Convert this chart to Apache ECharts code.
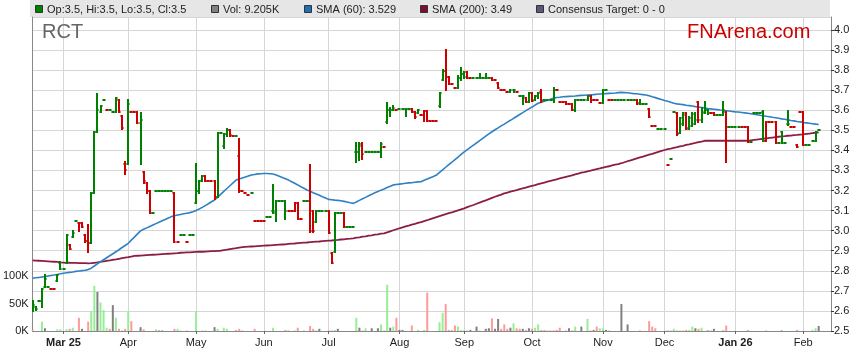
<!DOCTYPE html>
<html><head><meta charset="utf-8">
<script src="https://cdn.jsdelivr.net/npm/echarts@6/dist/echarts.min.js"></script>
<style>html,body{margin:0;padding:0;background:#fff}#c{width:859px;height:363px}</style>
</head><body><div id="c"></div>
<script>
// ---------- DATA ----------
const startDate = '2025-02-17';        // first trading weekday on the axis
const categoryCount = 260;              // weekdays shown on the axis
const tickIndex  = [10, 31, 53, 75, 96, 119, 140, 162, 185, 205, 228, 250];
const tickLabels = ['Mar 25','Apr','May','Jun','Jul','Aug','Sep','Oct','Nov','Dec','Jan 26','Feb'];
const boldTicks  = ['Mar 25','Jan 26'];

// [open, high, low, close] or a single number for a flat day
const ohlc = [
 [2.62,2.65,2.60,2.63],[2.62,2.62,2.605,2.61],2.65,[2.65,2.71,2.62,2.71],[2.72,2.78,2.72,2.76],2.72,2.71,2.71,[2.75,2.78,2.75,2.78],[2.84,2.845,2.81,2.81],
 2.81,[2.84,2.98,2.84,2.98],[2.93,2.93,2.91,2.91],[2.97,3.0,2.97,2.99],3.05,[3.04,3.04,3.0,3.04],[3.04,3.04,3.02,3.02],[2.98,2.98,2.945,2.95],[2.95,3.03,2.895,2.94],[2.94,3.19,2.94,3.19],
 [3.19,3.49,3.19,3.49],[3.49,3.68,3.49,3.60],[3.59,3.62,3.59,3.62],3.65,3.60,3.60,3.59,[3.59,3.66,3.59,3.66],[3.65,3.65,3.59,3.59],[3.57,3.57,3.505,3.51],
 [3.33,3.34,3.28,3.30],[3.33,3.65,3.33,3.63],3.59,3.59,[3.59,3.59,3.535,3.535],[3.535,3.585,3.33,3.55],[3.29,3.29,3.24,3.25],[3.24,3.24,3.19,3.20],[3.20,3.20,3.09,3.09],3.09,
 3.2,3.2,3.2,3.2,3.2,3.2,[3.19,3.19,2.945,2.945],2.945,2.98,2.98,
 2.945,2.98,2.98,[3.14,3.33,3.14,3.20],[3.20,3.25,3.19,3.25],[3.25,3.27,3.25,3.27],[3.27,3.27,3.25,3.25],3.25,3.25,[3.25,3.25,3.16,3.17],
 [3.17,3.485,3.17,3.485],3.485,[3.42,3.48,3.41,3.48],[3.48,3.505,3.47,3.50],[3.50,3.50,3.47,3.475],3.473,3.47,[3.37,3.455,3.194,3.20],3.197,3.186,
 3.176,3.186,3.047,3.047,3.047,3.047,3.067,3.067,[3.10,3.23,3.09,3.10],[3.09,3.15,3.05,3.15],
 3.148,3.148,[3.15,3.15,3.06,3.10],3.10,3.10,[3.10,3.136,3.10,3.136],[3.136,3.136,3.057,3.06],3.058,3.15,3.15,
 [3.15,3.327,2.995,3.0],[3.10,3.10,2.995,3.0],[3.045,3.10,3.045,3.10],3.098,3.098,3.098,[3.10,3.10,2.987,2.99],[2.89,2.89,2.84,2.84],[2.895,3.086,2.895,3.086],3.086,
 3.086,[3.086,3.086,3.017,3.017],3.017,3.017,3.017,[3.39,3.435,3.344,3.39],[3.39,3.435,3.35,3.42],[3.43,3.435,3.355,3.38],3.394,3.394,
 3.394,3.394,3.394,[3.39,3.435,3.365,3.43],3.415,[3.54,3.635,3.535,3.60],[3.60,3.61,3.573,3.60],[3.60,3.62,3.60,3.61],3.601,3.605,
 3.605,[3.605,3.605,3.57,3.605],3.605,[3.605,3.605,3.59,3.59],[3.59,3.59,3.563,3.565],[3.585,3.60,3.585,3.60],3.576,[3.576,3.596,3.546,3.596],[3.596,3.596,3.546,3.546],3.546,
 3.546,3.546,[3.62,3.684,3.618,3.684],[3.75,3.80,3.75,3.795],[3.795,3.90,3.70,3.767],[3.767,3.767,3.729,3.73],3.73,3.709,[3.71,3.77,3.71,3.76],[3.76,3.81,3.75,3.78],
 [3.78,3.79,3.76,3.765],[3.79,3.79,3.763,3.763],3.76,3.759,3.759,[3.76,3.78,3.76,3.76],3.76,[3.76,3.78,3.76,3.76],3.76,[3.76,3.76,3.75,3.75],
 3.75,[3.735,3.735,3.709,3.71],3.70,3.70,3.692,[3.69,3.70,3.69,3.70],[3.70,3.70,3.69,3.70],3.692,3.67,[3.67,3.67,3.63,3.67],
 [3.66,3.66,3.64,3.64],[3.64,3.684,3.64,3.684],[3.684,3.684,3.645,3.645],[3.65,3.67,3.65,3.67],[3.67,3.688,3.66,3.688],[3.69,3.70,3.643,3.645],3.651,3.651,3.651,[3.65,3.709,3.643,3.70],
 3.70,3.643,3.643,[3.643,3.643,3.63,3.63],3.63,[3.63,3.63,3.60,3.60],[3.60,3.651,3.596,3.651],3.651,3.651,3.651,
 [3.65,3.67,3.65,3.67],[3.67,3.67,3.64,3.651],3.651,3.651,3.635,[3.635,3.70,3.635,3.70],3.70,3.651,3.651,3.651,
 3.651,3.651,3.651,3.651,3.651,3.651,[3.651,3.651,3.63,3.638],[3.63,3.651,3.63,3.63],3.63,3.63,
 [3.605,3.605,3.568,3.568],3.52,3.52,3.505,3.505,3.505,3.327,3.355,3.59,[3.585,3.585,3.477,3.48],
 [3.485,3.56,3.485,3.56],[3.53,3.585,3.526,3.575],[3.585,3.585,3.505,3.51],[3.505,3.568,3.505,3.56],[3.52,3.585,3.52,3.58],[3.53,3.585,3.53,3.55],[3.643,3.643,3.543,3.55],[3.55,3.61,3.543,3.59],[3.585,3.643,3.585,3.60],[3.60,3.60,3.58,3.585],
 3.585,[3.585,3.585,3.576,3.576],3.576,3.576,[3.576,3.64,3.576,3.60],[3.59,3.59,3.344,3.515],3.515,3.515,3.515,3.515,
 3.515,3.515,[3.515,3.515,3.443,3.443],3.443,3.585,3.585,3.585,[3.59,3.596,3.447,3.447],[3.447,3.543,3.447,3.543],3.543,
 3.543,[3.543,3.543,3.435,3.435],3.435,[3.49,3.493,3.435,3.435],3.435,[3.53,3.596,3.526,3.53],3.515,3.515,[3.427,3.427,3.415,3.415],3.593,
 [3.593,3.593,3.427,3.427],3.427,3.427,3.447,[3.447,3.493,3.447,3.493],3.5
];
// bar colour per day: g = green, r = red
const barDir = ['ggggggrrgg','ggrggrrrrg','ggggrgggrr','rgrrrgrrrg','ggggggrrgg','rgggggrrrr','ggggrrgrrr','rgrrrrgggg','gggrrrrrgg','rrggggrrgg',
 'grgggggrgg','ggggrgggrg','gggrrgrrrr','rrggrrrrgg','grrggggggr','rrrrrggrgg','rgrggrgggg','rrrrrrgggg','grrrrggrrg','ggggggrggg',
 'rrrgggrggr','ggrgggrggg','rrgggrgggg','rrrgggggrr','rrggggrrrr','rggggg'].join('');

// volume in thousands
const volumeK = [
 2,0,0,17,5,0,0,0,3,3, 0,3,4,6,0,24,4,0,17,36, 82,71,52,38,6,4,47,24,4,1, 4,36,18,0,0,7,3,0,0,0,
 3,1,1,0,0,0,4,4,1,0, 1,0,0,36,0,1,1,0,0,7, 4,0,6,4,0,0,1,4,1,0, 0,0,4,0,0,0,0,0,6,0,
 0,0,1,1,0,1,6,0,1,0, 9,4,1,4,0,0,1,1,2,4, 0,0,0,0,0,24,6,1,5,0, 5,0,5,12,1,84,6,8,24,2,
 2,0,0,10,0,2,0,2,70,0, 0,0,16,33,49,2,1,10,8,2, 2,1,2,0,8,1,0,4,5,23, 4,22,4,12,4,6,14,5,4,4,
 1,5,4,6,12,2,1,1,1,1, 2,6,0,1,5,1,8,0,8,0, 22,1,2,8,5,5,2,1,0,0, 0,49,0,12,0,0,0,1,0,0,
 18,8,5,0,0,0,1,1,4,1, 1,1,2,2,8,5,4,6,0,1, 1,4,0,0,2,10,0,0,0,0, 0,0,2,0,0,0,0,0,1,0,
 0,0,0,1,0,0,0,0,2,0, 0,0,0,2,5,9.205
];
// volume colour: g = up, r = down, n = unchanged
const volKind = ['r--gn---gg','-grg-rn-rg','gngggrngrr','rgr--nr---','gnn---rgg-','r--g-gr--n','g-gg--nrr-','--r-----g-','--nr-gr-g-','rrgn--rrgn',
 '-----gnrg-','n-ngrgngrn','n--r-g-gr-','--ggrrnrgg','grn-ng-nnr','nnrrrngrrn','nnrggrnrrr','rr-rnrg-n-','grnrggnr--','-n-n---r--',
 'rrr---rggr','ggrggnrg-n','rn--gr----','--r-----r-','---n----r-','---ggn'].join('');

const sma60 = [
 2.763,2.765,2.767,2.769,2.771,2.774,2.777,2.779,2.782,2.785, 2.788,2.790,2.792,2.794,2.797,2.799,2.801,2.803,2.806,2.813,
 2.824,2.835,2.845,2.855,2.865,2.875,2.885,2.895,2.905,2.916, 2.926,2.937,2.953,2.968,2.984,2.999,3.007,3.014,3.021,3.028,
 3.035,3.042,3.049,3.056,3.063,3.070,3.074,3.078,3.081,3.084, 3.087,3.090,3.094,3.101,3.108,3.116,3.125,3.134,3.144,3.153,
 3.166,3.181,3.196,3.210,3.224,3.238,3.252,3.258,3.263,3.268, 3.273,3.277,3.280,3.283,3.284,3.285,3.285,3.284,3.282,3.277,
 3.271,3.265,3.259,3.252,3.244,3.236,3.228,3.219,3.211,3.203, 3.196,3.189,3.183,3.176,3.169,3.163,3.156,3.154,3.152,3.151,
 3.149,3.146,3.143,3.139,3.136,3.143,3.151,3.159,3.166,3.174, 3.181,3.189,3.195,3.202,3.208,3.215,3.221,3.228,3.230,3.232,
 3.234,3.236,3.238,3.239,3.241,3.243,3.244,3.251,3.257,3.264, 3.270,3.277,3.290,3.303,3.316,3.329,3.341,3.354,3.367,3.380,
 3.393,3.404,3.415,3.426,3.437,3.449,3.460,3.471,3.482,3.493, 3.503,3.512,3.522,3.531,3.541,3.550,3.560,3.569,3.579,3.588,
 3.598,3.607,3.616,3.626,3.635,3.640,3.645,3.650,3.655,3.660, 3.664,3.665,3.667,3.668,3.669,3.670,3.671,3.673,3.674,3.675,
 3.676,3.677,3.678,3.680,3.681,3.682,3.683,3.684,3.685,3.686, 3.688,3.689,3.688,3.687,3.685,3.683,3.682,3.680,3.678,3.676,
 3.672,3.667,3.663,3.658,3.654,3.649,3.645,3.640,3.635,3.632, 3.630,3.628,3.625,3.623,3.621,3.618,3.616,3.614,3.612,3.609,
 3.607,3.605,3.603,3.601,3.600,3.598,3.596,3.594,3.592,3.591, 3.589,3.587,3.585,3.583,3.580,3.578,3.575,3.573,3.570,3.568,
 3.565,3.563,3.560,3.557,3.555,3.552,3.549,3.547,3.544,3.542, 3.539,3.537,3.535,3.533,3.531,3.529
];
const sma200 = [
 2.852,2.851,2.850,2.849,2.848,2.847,2.846,2.845,2.844,2.842, 2.841,2.840,2.840,2.839,2.839,2.838,2.838,2.838,2.837,2.838,
 2.840,2.842,2.845,2.847,2.850,2.852,2.855,2.857,2.860,2.863, 2.866,2.868,2.871,2.874,2.875,2.876,2.877,2.878,2.879,2.880,
 2.881,2.882,2.883,2.884,2.885,2.886,2.887,2.888,2.890,2.891, 2.892,2.892,2.893,2.894,2.895,2.895,2.896,2.897,2.898,2.898,
 2.899,2.900,2.903,2.905,2.908,2.911,2.913,2.916,2.918,2.919, 2.920,2.921,2.922,2.923,2.924,2.925,2.926,2.927,2.928,2.929,
 2.930,2.931,2.932,2.934,2.935,2.936,2.938,2.939,2.940,2.941, 2.943,2.944,2.945,2.946,2.948,2.949,2.950,2.951,2.953,2.954,
 2.956,2.957,2.959,2.960,2.962,2.965,2.967,2.970,2.972,2.975, 2.977,2.980,2.982,2.985,2.987,2.992,2.997,3.002,3.007,3.012,
 3.016,3.021,3.025,3.030,3.034,3.039,3.043,3.048,3.052,3.057, 3.062,3.067,3.072,3.077,3.082,3.087,3.091,3.096,3.101,3.106,
 3.111,3.117,3.123,3.128,3.134,3.140,3.146,3.151,3.157,3.163, 3.169,3.175,3.180,3.186,3.190,3.194,3.198,3.202,3.207,3.211,
 3.215,3.219,3.223,3.227,3.232,3.236,3.240,3.244,3.248,3.252, 3.256,3.260,3.264,3.268,3.272,3.276,3.280,3.284,3.289,3.292,
 3.296,3.299,3.303,3.307,3.310,3.314,3.318,3.321,3.325,3.329, 3.332,3.336,3.341,3.346,3.350,3.355,3.360,3.365,3.369,3.374,
 3.379,3.383,3.388,3.393,3.398,3.402,3.406,3.409,3.413,3.416, 3.420,3.423,3.427,3.430,3.434,3.437,3.441,3.444,3.448,3.448,
 3.448,3.448,3.448,3.448,3.448,3.448,3.448,3.448,3.448,3.448, 3.448,3.448,3.448,3.450,3.452,3.454,3.456,3.458,3.460,3.462,
 3.464,3.466,3.468,3.470,3.471,3.473,3.474,3.476,3.477,3.479, 3.480,3.482,3.484,3.486,3.488,3.490
];
const legendTexts = ['Op:3.5, Hi:3.5, Lo:3.5, Cl:3.5', 'Vol: 9.205K', 'SMA (60): 3.529', 'SMA (200): 3.49', 'Consensus Target: 0 - 0'];
const titleText = 'RCT';
const brandText = 'FNArena.com';

// ---------- BUILD ----------
const n = ohlc.length;
if (barDir.length !== n || volumeK.length !== n || volKind.length !== n || sma60.length !== n || sma200.length !== n) {
  throw new Error('length mismatch ' + [n, barDir.length, volumeK.length, volKind.length, sma60.length, sma200.length].join(','));
}
const dates = [];
{
  const d = new Date(startDate + 'T00:00:00Z');
  while (dates.length < categoryCount) {
    const wd = d.getUTCDay();
    if (wd !== 0 && wd !== 6) dates.push(d.toISOString().slice(0, 10));
    d.setUTCDate(d.getUTCDate() + 1);
  }
}
const tickSet = new Set(tickIndex);
const ohlcData = ohlc.map((r, i) => {
  const a = Array.isArray(r) ? r : [r, r, r, r];
  return [i, a[0], a[1], a[2], a[3], barDir[i] === 'g' ? 1 : 0];
});
const volColors = { g: '#96ee96', r: '#ff9a9a', n: '#808080', '-': '#808080' };
const volData = volumeK.map((v, i) => v > 0 ? { value: v * 1000, itemStyle: { color: volColors[volKind[i]] } } : '-');

const FONT = '"Liberation Sans", Arial, sans-serif';

function renderOHLC(params, api) {
  const i = api.value(0);
  const color = api.value(5) === 1 ? '#008000' : '#cc0000';
  const pO = api.coord([i, api.value(1)]);
  const pH = api.coord([i, api.value(2)]);
  const pL = api.coord([i, api.value(3)]);
  const pC = api.coord([i, api.value(4)]);
  const half = api.size([1, 0])[0] / 2;
  const x = Math.round(pO[0]);
  const yO = Math.round(pO[1]), yC = Math.round(pC[1]), yH = Math.round(pH[1]), yL = Math.round(pL[1]);
  const st = { stroke: color, lineWidth: 2, lineCap: 'butt' };
  const kids = [];
  if (yL - yH > 0) kids.push({ type: 'line', shape: { x1: x, y1: yH - 1, x2: x, y2: yL + 1 }, style: st });
  kids.push({ type: 'line', shape: { x1: x - half, y1: yO, x2: x, y2: yO }, style: st });
  kids.push({ type: 'line', shape: { x1: x, y1: yC, x2: x + half, y2: yC }, style: st });
  return { type: 'group', children: kids };
}

const legendItems = [
  { sx: 35, tx: 47, color: '#008000' },
  { sx: 211, tx: 223, color: '#808080' },
  { sx: 304, tx: 316, color: '#1f6fb2' },
  { sx: 420, tx: 432, color: '#7d1030' },
  { sx: 536, tx: 548, color: '#58587a' }
];
const graphics = [
  { type: 'rect', left: 30, top: 0, shape: { width: 800, height: 17 }, style: { fill: '#e6e6e6' }, z: 0 }
];
legendItems.forEach((it, k) => {
  graphics.push({ type: 'rect', shape: { x: it.sx + 0.5, y: 5.5, width: 7, height: 7 }, style: { fill: it.color, stroke: '#333', lineWidth: 1 }, z: 10 });
  graphics.push({ type: 'text', x: it.tx, y: 9.5, style: { text: legendTexts[k], font: '11px ' + FONT, fill: '#222', verticalAlign: 'middle', align: 'left' }, z: 10 });
});
graphics.push({ type: 'text', x: 42, y: 32, style: { text: titleText, font: '20px ' + FONT, fill: '#666', verticalAlign: 'middle', align: 'left' }, z: 10 });
graphics.push({ type: 'text', x: 687, y: 32, style: { text: brandText, font: '20px ' + FONT, fill: '#cc0000', verticalAlign: 'middle', align: 'left' }, z: 10 });

const priceMin = 2.5, priceMax = 4.0648, volMax = 570900;
const isTenth = v => Math.abs(v * 10 - Math.round(v * 10)) < 1e-6;

const chart = echarts.init(document.getElementById('c'), null, { renderer: 'canvas' });
chart.setOption({
  animation: false,
  backgroundColor: '#fff',
  textStyle: { fontFamily: FONT },
  grid: { left: 31, right: 28, top: 17, bottom: 32, containLabel: false },
  graphic: graphics,
  xAxis: {
    type: 'category', data: dates, boundaryGap: false,
    axisLine: { show: true, lineStyle: { color: '#888', width: 1 } },
    axisTick: { show: true, length: 3, interval: (i) => tickSet.has(i), lineStyle: { color: '#666' } },
    splitLine: { show: true, interval: (i) => tickSet.has(i), lineStyle: { color: '#d6d6d6', width: 1 } },
    axisLabel: {
      interval: (i) => tickSet.has(i), margin: 6, fontSize: 11, color: '#222', fontFamily: FONT,
      formatter: (v, i) => { const k = tickIndex.indexOf(i); if (k < 0) return ''; const t = tickLabels[k]; return boldTicks.includes(t) ? '{b|' + t + '}' : t; },
      rich: { b: { fontWeight: 'bold', fontSize: 11, color: '#222', fontFamily: FONT } }
    }
  },
  yAxis: [
    {
      type: 'value', position: 'right', min: priceMin, max: priceMax, interval: 0.1,
      axisLine: { show: true, lineStyle: { color: '#888' } },
      axisTick: { show: true, length: 3, lineStyle: { color: '#333' } },
      splitLine: { show: true, lineStyle: { color: '#d6d6d6', width: 1 } },
      axisLabel: { margin: 3, fontSize: 11, color: '#222', fontFamily: FONT, showMaxLabel: false,
        formatter: v => isTenth(v) ? v.toFixed(1) : '' }
    },
    {
      type: 'value', position: 'left', min: 0, max: volMax, interval: 50000,
      axisLine: { show: true, lineStyle: { color: '#888' } },
      axisTick: { show: false },
      splitLine: { show: false },
      axisLabel: { margin: 4, fontSize: 11, color: '#222', fontFamily: FONT, showMaxLabel: false,
        formatter: v => (v <= 100000 && v % 50000 === 0) ? (v / 1000) + 'K' : '' }
    }
  ],
  series: [
    { name: 'Volume', type: 'bar', yAxisIndex: 1, data: volData, barWidth: 2, z: 1, silent: true },
    { name: 'SMA (200)', type: 'line', yAxisIndex: 0, data: sma200, showSymbol: false, smooth: false,
      lineStyle: { color: '#8c1d44', width: 1.8 }, z: 2, silent: true },
    { name: 'SMA (60)', type: 'line', yAxisIndex: 0, data: sma60, showSymbol: false, smooth: false,
      lineStyle: { color: '#2f80c4', width: 1.6 }, z: 2, silent: true },
    { name: 'Price', type: 'custom', yAxisIndex: 0, data: ohlcData, renderItem: renderOHLC,
      encode: { x: 0, y: [1, 2, 3, 4] }, z: 3, silent: true, clip: true }
  ]
});
</script></body></html>
